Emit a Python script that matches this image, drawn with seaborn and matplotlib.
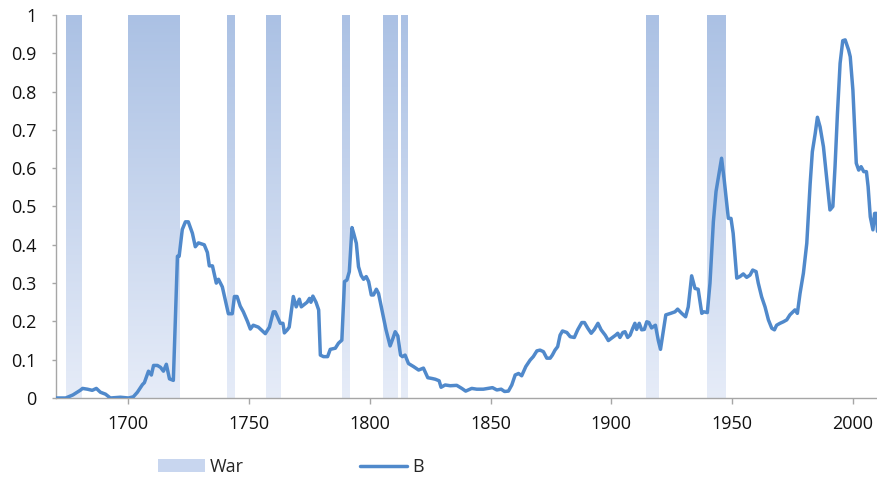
import numpy as np
import matplotlib
matplotlib.use("Agg")
import matplotlib.pyplot as plt
import seaborn as sns
from matplotlib.patches import Patch
from matplotlib.lines import Line2D

# series B
years = [1670, 1674, 1677, 1680, 1681, 1683, 1685, 1686.7, 1688.4, 1690.5, 1692.5, 1696.7,
         1700, 1702, 1703.7, 1705.8, 1706.6, 1708.3, 1709.5, 1710.4, 1712, 1713.3, 1714.5,
         1715.7, 1717, 1718.6, 1720.3, 1721, 1722.3, 1723.6, 1724.8, 1726.5, 1727.7, 1729,
         1731.4, 1732.7, 1733.5, 1734.8, 1736.4, 1737.3, 1738.9, 1741.4, 1743, 1743.9, 1745,
         1746.3, 1747.6, 1749.3, 1750.5, 1751.7, 1753.8, 1756.7, 1758.4, 1760, 1760.8, 1762.9,
         1764, 1764.6, 1765.8, 1766.6, 1768.3, 1769.5, 1770.8, 1771.6, 1774, 1775, 1775.6,
         1776.4, 1777.7, 1778.8, 1779.5, 1780.8, 1782.5, 1783.6, 1785.7, 1787, 1788.4, 1789.5,
         1790.5, 1791.5, 1792.6, 1793.3, 1794.4, 1795.3, 1796.4, 1797.4, 1798.5, 1799.5, 1800.6,
         1801.5, 1802.7, 1803.6, 1805, 1806.7, 1808.4, 1809.4, 1810.5, 1811.6, 1812.7, 1813.5,
         1814.6, 1816, 1818.1, 1820.2, 1822.2, 1824, 1825.7, 1827.1, 1828.7, 1829.5, 1831.2,
         1833.3, 1836, 1838.1, 1839.7, 1842.2, 1844.3, 1847, 1848.9, 1850.8, 1852.6, 1854.4,
         1855.8, 1857.4, 1858.8, 1860.2, 1861.6, 1862.9, 1864.6, 1866.4, 1867.7, 1869.2, 1870.5,
         1871.9, 1873.3, 1874.7, 1875.6, 1876.7, 1877.8, 1878.8, 1879.8, 1881.6, 1883, 1884.7,
         1886.1, 1887.8, 1888.9, 1890.3, 1891.7, 1893, 1894.5, 1895.8, 1897.5, 1898.8, 1900.5,
         1901.8, 1902.7, 1903.6, 1904.8, 1905.7, 1906.8, 1907.8, 1908.9, 1909.8, 1910.5, 1911.6,
         1912.6, 1913.7, 1914.7, 1915.6, 1916.7, 1918.3, 1919.5, 1920.4, 1922.6, 1924.6, 1926.4,
         1927.5, 1929.2, 1930.8, 1931.9, 1933.3, 1934.7, 1936, 1937.5, 1938.4, 1939.8, 1940.9,
         1942.3, 1943.4, 1945.7, 1946.8, 1948.5, 1949.6, 1950.5, 1952, 1953.3, 1954.7, 1956.1,
         1957.5, 1958.6, 1960, 1960.9, 1962.3, 1963.7, 1965.1, 1966.5, 1967.6, 1968.5, 1969.9,
         1971.3, 1972.7, 1974, 1976.1, 1977.1, 1978.2, 1979.6, 1981, 1982.4, 1983.3, 1984.5,
         1985.4, 1986.5, 1987.9, 1989.3, 1990.6, 1991.8, 1992.7, 1993.7, 1994.8, 1995.9, 1996.9,
         1998.3, 1999, 2000.1, 2001.5, 2002.5, 2003.5, 2004.6, 2005.7, 2006.4, 2007.3, 2008.4,
         2009.1, 2009.8, 2010.3]
values = [0.0, 0.0, 0.008, 0.02, 0.025, 0.023, 0.02, 0.025, 0.015, 0.01, 0.0, 0.002,
          0.0, 0.003, 0.015, 0.035, 0.04, 0.07, 0.06, 0.085, 0.085, 0.08, 0.07,
          0.088, 0.05, 0.046, 0.37, 0.37, 0.44, 0.46, 0.46, 0.43, 0.395, 0.405,
          0.40, 0.38, 0.345, 0.345, 0.30, 0.31, 0.29, 0.22, 0.22, 0.265, 0.265,
          0.24, 0.225, 0.20, 0.18, 0.19, 0.185, 0.168, 0.185, 0.225, 0.225, 0.195,
          0.195, 0.17, 0.178, 0.185, 0.265, 0.238, 0.258, 0.238, 0.25, 0.26, 0.25,
          0.266, 0.25, 0.23, 0.112, 0.108, 0.108, 0.127, 0.13, 0.143, 0.151, 0.304,
          0.308, 0.33, 0.445, 0.43, 0.404, 0.343, 0.32, 0.31, 0.317, 0.304, 0.269,
          0.269, 0.284, 0.273, 0.23, 0.178, 0.136, 0.153, 0.173, 0.162, 0.112, 0.108,
          0.112, 0.09, 0.082, 0.073, 0.078, 0.053, 0.051, 0.049, 0.045, 0.028, 0.034,
          0.032, 0.033, 0.025, 0.018, 0.025, 0.023, 0.023, 0.025, 0.027, 0.021, 0.023,
          0.017, 0.018, 0.034, 0.06, 0.064, 0.058, 0.082, 0.099, 0.108, 0.123, 0.125,
          0.121, 0.104, 0.104, 0.112, 0.125, 0.134, 0.164, 0.175, 0.171, 0.16, 0.158,
          0.178, 0.197, 0.197, 0.182, 0.169, 0.179, 0.195, 0.178, 0.164, 0.15, 0.158,
          0.164, 0.169, 0.158, 0.171, 0.173, 0.158, 0.164, 0.182, 0.195, 0.179, 0.195,
          0.178, 0.179, 0.199, 0.197, 0.183, 0.19, 0.15, 0.127, 0.217, 0.221, 0.225,
          0.232, 0.221, 0.212, 0.238, 0.319, 0.286, 0.284, 0.221, 0.225, 0.223, 0.30,
          0.46, 0.539, 0.626, 0.569, 0.469, 0.469, 0.43, 0.313, 0.317, 0.324, 0.315,
          0.321, 0.334, 0.33, 0.30, 0.264, 0.238, 0.204, 0.182, 0.178, 0.19, 0.195,
          0.199, 0.204, 0.217, 0.23, 0.221, 0.273, 0.326, 0.404, 0.56, 0.643, 0.691,
          0.733, 0.708, 0.656, 0.569, 0.491, 0.5, 0.604, 0.743, 0.874, 0.933, 0.935,
          0.909, 0.891, 0.804, 0.613, 0.595, 0.604, 0.591, 0.591, 0.552, 0.473, 0.439,
          0.482, 0.482, 0.435]

# war periods (shaded bands)
war_start = [1674, 1700, 1741, 1757, 1788.3, 1805.3, 1813, 1914.3, 1939.5]
war_end = [1680.5, 1721.5, 1744.3, 1763.2, 1791.6, 1811.5, 1815.5, 1919.6, 1947]

xticks = [1700, 1750, 1800, 1850, 1900, 1950, 2000]
yticks = [0, 0.1, 0.2, 0.3, 0.4, 0.5, 0.6, 0.7, 0.8, 0.9, 1]
ytick_labels = ["0", "0.1", "0.2", "0.3", "0.4", "0.5", "0.6", "0.7", "0.8", "0.9", "1"]

line_color = "#5089cb"
axis_color = "#a6a6a6"

sns.set_style("white")
plt.rcParams["font.family"] = ["Open Sans", "DejaVu Sans"]

fig = plt.figure(figsize=(8.78, 4.84), dpi=100)
ax = fig.add_axes([0.0638, 0.1777, 0.9362, 0.7913])

# gradient war bands: darker at top, lighter at bottom
top = np.array([171, 193, 228]) / 255
bot = np.array([230, 236, 248]) / 255
t = np.linspace(0, 1, 256)[:, None]
grad = (top * (1 - t) + bot * t).reshape(256, 1, 3)
for s, e in zip(war_start, war_end):
    ax.imshow(grad, extent=(s, e, 0, 1), aspect="auto", interpolation="bilinear", zorder=1)

sns.lineplot(x=years, y=values, ax=ax, color=line_color, lw=2.5,
             estimator=None, sort=False, zorder=3)

ax.set_xlim(1670, 2010.5)
ax.set_ylim(0, 1)
ax.set_xticks(xticks)
ax.set_xticklabels([str(v) for v in xticks])
ax.set_yticks(yticks)
ax.set_yticklabels(ytick_labels)

for side in ["top", "right"]:
    ax.spines[side].set_visible(False)
for side in ["left", "bottom"]:
    ax.spines[side].set_color(axis_color)
    ax.spines[side].set_linewidth(1.0)

ax.tick_params(axis="x", direction="out", length=4, width=1, color=axis_color,
               pad=8, labelsize=13, labelcolor="#111111", bottom=True)
ax.tick_params(axis="y", direction="out", length=3, width=1, color=axis_color,
               pad=11, labelsize=13, labelcolor="#111111", left=True)
ax.grid(False)

handles = [Patch(facecolor="#c8d6ef", edgecolor="none", label="War"),
           Line2D([0], [0], color=line_color, lw=2.5, label="B")]
fig.legend(handles=handles, loc="center", bbox_to_anchor=(0.331, 0.035), ncol=2,
           frameon=False, fontsize=13, handlelength=2.6, handletextpad=0.3,
           columnspacing=6.4)

fig.savefig("out.png", dpi=100)
